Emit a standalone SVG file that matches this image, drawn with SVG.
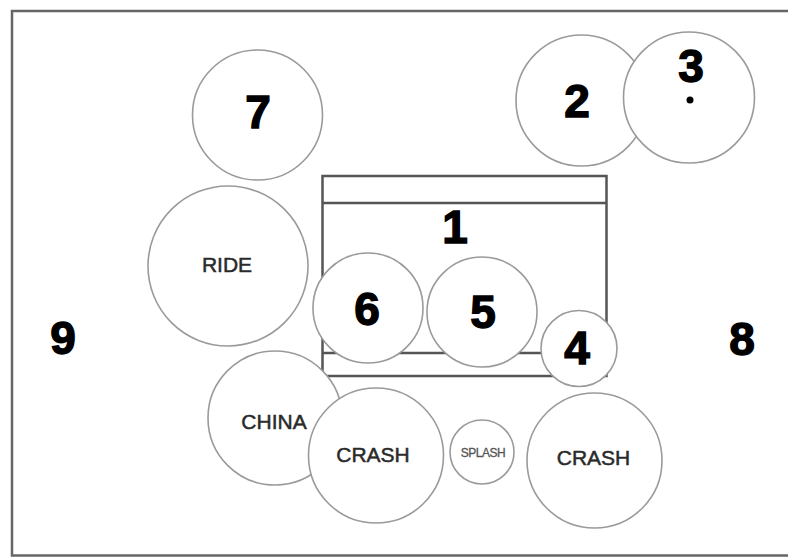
<svg xmlns="http://www.w3.org/2000/svg" width="788" height="557" viewBox="0 0 788 557">
<style>
.drum{fill:#fff;stroke:#9a9a9a;stroke-width:1.6}
.num{font-family:"Liberation Sans",Arial,sans-serif;font-weight:900;font-size:46px;fill:#000;text-anchor:middle;stroke:#000;stroke-width:1.4}
.lbl{font-family:"Liberation Sans",Arial,sans-serif;font-size:21px;fill:#2a2a2a;text-anchor:middle;stroke:#2a2a2a;stroke-width:0.5}
.frame{fill:none;stroke:#666;stroke-width:2.5}
.kit{fill:#fff;stroke:#555;stroke-width:2.5}
</style>
<rect width="788" height="557" fill="#fff"/>
<rect class="frame" x="12" y="11" width="790" height="544.5"/>
<text class="num" x="63" y="354">9</text>
<text class="num" x="742" y="355">8</text>
<g id="n1">
<rect class="kit" x="322.5" y="176" width="284" height="200"/>
<line x1="322.5" y1="203" x2="606.5" y2="203" stroke="#555" stroke-width="2.5"/>
<line x1="322.5" y1="353" x2="606.5" y2="353" stroke="#555" stroke-width="2.5"/>
<text class="num" x="455" y="243">1</text>
</g>
<g id="n7"><circle class="drum" cx="257.5" cy="115" r="65"/><text class="num" x="258" y="128">7</text></g>
<g id="n2"><circle class="drum" cx="581.5" cy="100.5" r="65.5"/><text class="num" x="577" y="117">2</text></g>
<g id="n3"><circle class="drum" cx="689" cy="97.5" r="65.5"/><text class="num" x="691" y="82">3</text><circle cx="690" cy="100" r="3.5" fill="#000"/></g>
<g id="ride"><circle class="drum" cx="228" cy="266" r="80"/><text class="lbl" x="227" y="272">RIDE</text></g>
<g id="n6"><circle class="drum" cx="368" cy="308" r="55"/><text class="num" x="367" y="325">6</text></g>
<g id="n5"><circle class="drum" cx="482" cy="312" r="55"/><text class="num" x="483" y="328">5</text></g>
<g id="n4"><circle class="drum" cx="579" cy="348.5" r="38"/><text class="num" x="577" y="364">4</text></g>
<g id="china"><circle class="drum" cx="275" cy="418" r="67"/><text class="lbl" x="274" y="429">CHINA</text></g>
<g id="crash1"><circle class="drum" cx="376" cy="455.5" r="67.5"/><text class="lbl" x="373" y="462">CRASH</text></g>
<g id="splash"><circle class="drum" cx="482" cy="452" r="32" stroke="#aaa"/><text class="lbl" x="483" y="456.5" style="font-size:12px;fill:#555;stroke:#555;stroke-width:0.3;letter-spacing:-0.5px">SPLASH</text></g>
<g id="crash2"><circle class="drum" cx="594.5" cy="460.5" r="67.5"/><text class="lbl" x="593.5" y="465">CRASH</text></g>
<g id="connectors"></g>
</svg>
